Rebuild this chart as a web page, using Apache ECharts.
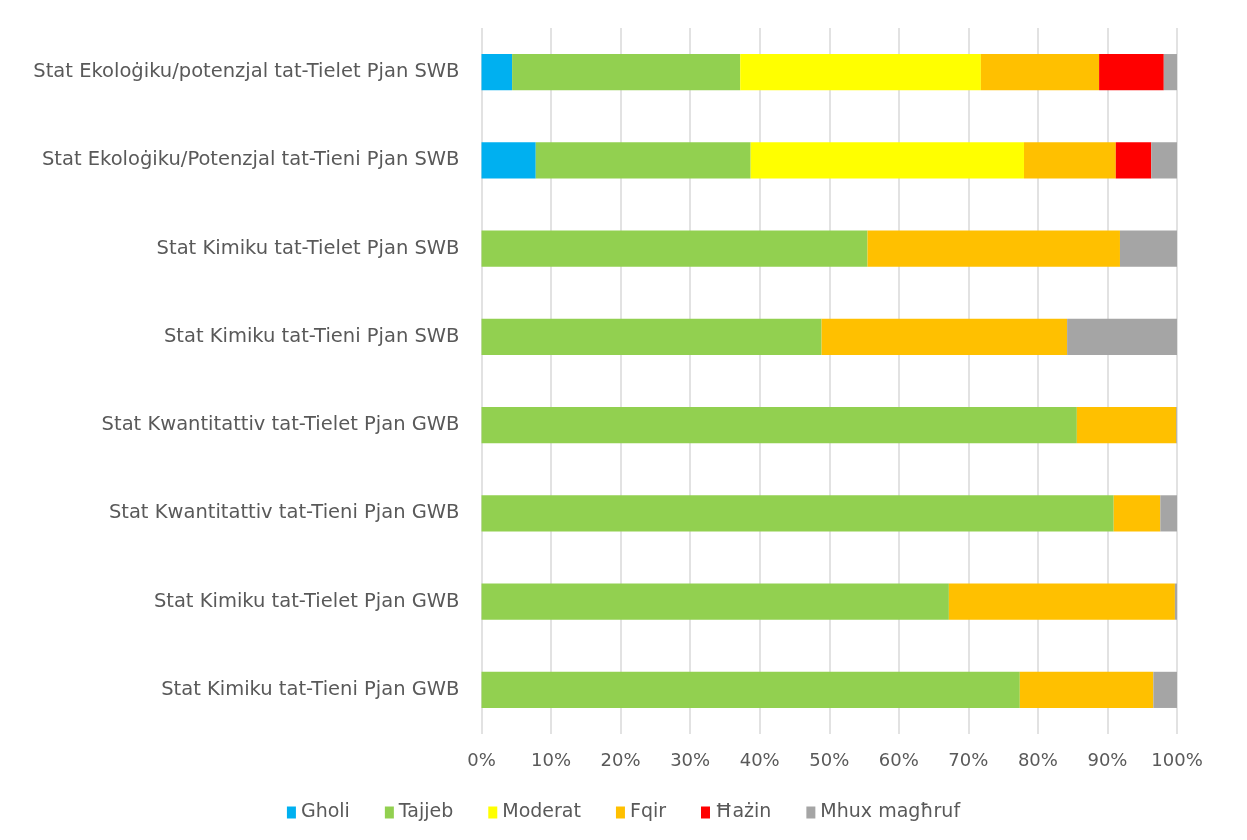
<!DOCTYPE html>
<html>
<head>
<meta charset="utf-8">
<script src="https://cdn.jsdelivr.net/npm/echarts@6/dist/echarts.min.js"></script>
<style>html,body{margin:0;padding:0;background:#fff}#c{width:1247px;height:840px}</style>
</head>
<body>
<div id="c"></div>
<script>
const categories = [
  "Stat Ekoloġiku/potenzjal tat-Tielet Pjan SWB",
  "Stat Ekoloġiku/Potenzjal tat-Tieni Pjan SWB",
  "Stat Kimiku tat-Tielet Pjan SWB",
  "Stat Kimiku tat-Tieni Pjan SWB",
  "Stat Kwantitattiv tat-Tielet Pjan GWB",
  "Stat Kwantitattiv tat-Tieni Pjan GWB",
  "Stat Kimiku tat-Tielet Pjan GWB",
  "Stat Kimiku tat-Tieni Pjan GWB"
];
const seriesNames = ["Gholi", "Tajjeb", "Moderat", "Fqir", "Ħażin", "Mhux magħruf"];
const gholi   = [4.4, 7.8, 0, 0, 0, 0, 0, 0];
const tajjeb  = [32.8, 30.9, 55.5, 48.9, 85.6, 90.9, 67.2, 77.4];
const moderat = [34.6, 39.3, 0, 0, 0, 0, 0, 0];
const fqir    = [17.0, 13.2, 36.3, 35.3, 14.3, 6.7, 32.5, 19.2];
const hazin   = [9.3, 5.1, 0, 0, 0, 0, 0, 0];
const mhux    = [1.9, 3.7, 8.2, 15.8, 0.1, 2.4, 0.3, 3.4];
const xTicks = [0, 10, 20, 30, 40, 50, 60, 70, 80, 90, 100];

const colors = ["#00B0F0", "#92D050", "#FFFF00", "#FFC000", "#FF0000", "#A5A5A5"];
const values = [gholi, tajjeb, moderat, fqir, hazin, mhux];

const chart = echarts.init(document.getElementById('c'), null, {renderer: 'canvas'});
const font = '"DejaVu Sans", sans-serif';
chart.setOption({
  animation: false,
  color: colors,
  grid: {left: 481.5, right: 70, top: 28, bottom: 106, containLabel: false},
  legend: {
    data: seriesNames,
    left: 'center',
    bottom: 13,
    icon: 'rect',
    itemWidth: 9,
    itemHeight: 12,
    itemGap: 35,
    textStyle: {color: '#595959', fontSize: 19, fontFamily: font}
  },
  xAxis: {
    type: 'value',
    min: xTicks[0],
    max: xTicks[xTicks.length - 1],
    interval: 10,
    axisLine: {show: false},
    axisTick: {show: false},
    axisLabel: {color: '#595959', fontSize: 18, fontFamily: font, margin: 18, formatter: '{value}%'},
    splitLine: {show: true, lineStyle: {color: '#D9D9D9', width: 1.5}}
  },
  yAxis: {
    type: 'category',
    inverse: true,
    data: categories,
    axisLine: {show: false},
    axisTick: {show: false},
    axisLabel: {color: '#595959', fontSize: 19.5, fontFamily: font, margin: 22}
  },
  series: seriesNames.map((n, i) => ({
    name: n,
    type: 'bar',
    stack: 'total',
    barCategoryGap: '59%',
    data: values[i],
    itemStyle: {color: colors[i]}
  }))
});
</script>
</body>
</html>
